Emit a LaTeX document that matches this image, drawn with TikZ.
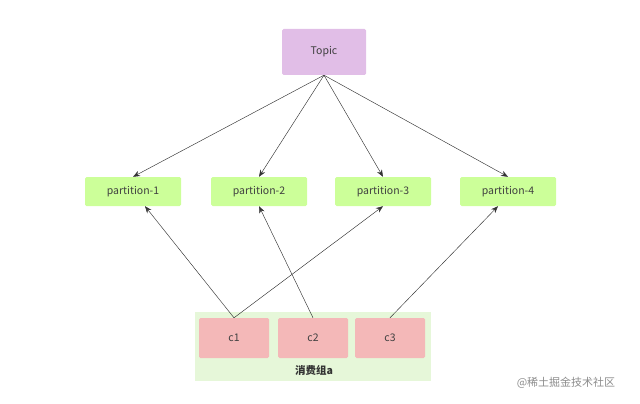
\documentclass[tikz,border=0pt]{standalone}
\usepackage{fontspec}
\setmainfont{Noto Sans CJK SC}
\usetikzlibrary{positioning}
\usetikzlibrary{arrows.meta}

\begin{document}
\begin{tikzpicture}[ x = 1pt, y = -1pt
                     , font              = \fontsize{10.5}{12}\selectfont
                     , every node/.style = { rectangle
                                           , rounded corners = 1.5pt
                                           , align          = center
                                           , text = black!75
                                           }
                     % Use latex style arrows
                     , >={Stealth[width=0.55em, length=0.7em]}
                     ]

  \definecolor{topicpurple}{HTML}{E1BEE7}
  \definecolor{partgreen}{HTML}{CCFF99}
  \definecolor{grpgreen}{HTML}{E6F7D9}
  \definecolor{cpink}{HTML}{F4B8B8}

  %%
  %% Node types
  %%
  \tikzset{ topicbox/.style={fill=topicpurple, minimum width=84pt, minimum height=46pt}
          , partbox/.style={fill=partgreen, minimum width=96pt, minimum height=29pt}
          , cbox/.style={fill=cpink, minimum width=70pt, minimum height=40pt}
          , link/.style={->, black!80, line width=0.45pt}
          }

  \useasboundingbox (0,0) rectangle (640,404);

  %%
  %% Nodes
  %%
  \node (grp) [fill=grpgreen, rounded corners=0pt, minimum width=236pt, minimum height=69pt] at (313,346.5) {};
  \node (topic) [topicbox] at (324,52) {Topic};

  \node (p1) [partbox] at (133,191.5) {partition-1};
  \node (p2) [partbox] at (259,191.5) {partition-2};
  \node (p3) [partbox] at (383,191.5) {partition-3};
  \node (p4) [partbox] at (508,191.5) {partition-4};

  \node (c1) [cbox] at (234,338) {c1};
  \node (c2) [cbox] at (313,338) {c2};
  \node (c3) [cbox] at (390,338) {c3};

  \node (grplabel) [font=\fontsize{10.5}{12}\selectfont\bfseries, text=black!80] at (314,370) {消费组a};
  \node (mark) [text=black!45, font=\fontsize{11}{13}\selectfont] at (566,383) {@稀土掘金技术社区};

  %%
  %% Relationships between nodes
  %%
  \draw[link] (topic.south) -- (p1.north);
  \draw[link] (topic.south) -- (p2.north);
  \draw[link] (topic.south) -- (p3.north);
  \draw[link] (topic.south) -- (p4.north);

  \draw[link] (c1.north) -- ([xshift=12pt]p1.south);
  \draw[link] (c1.north) -- (p3.south);
  \draw[link] (c2.north) -- (p2.south);
  \draw[link] (c3.north) -- ([xshift=-10pt]p4.south);

\end{tikzpicture}
\end{document}
